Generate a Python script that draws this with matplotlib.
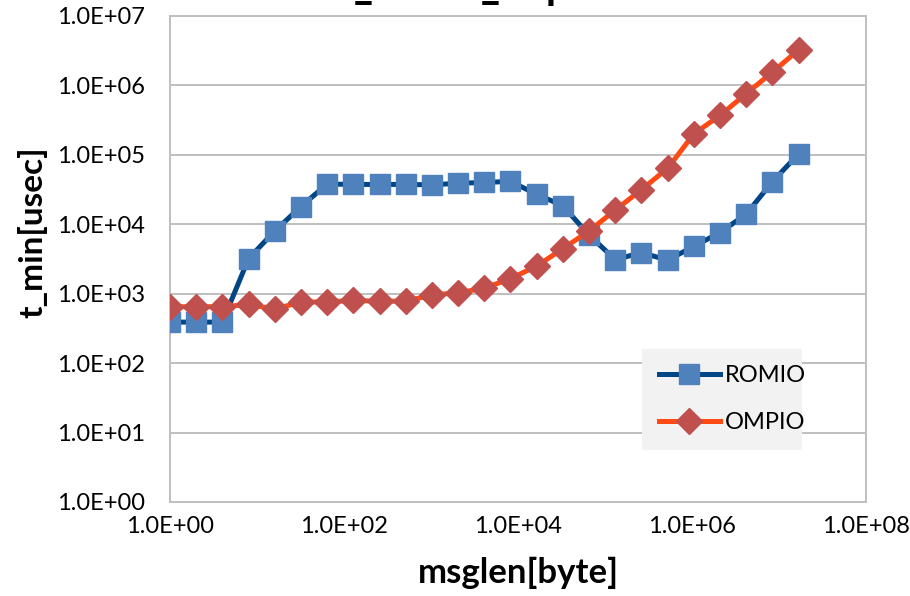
import matplotlib
matplotlib.use("Agg")
import matplotlib.pyplot as plt
from matplotlib.ticker import FixedLocator, FuncFormatter, NullLocator

title = "P_Write_Expl"
msglen = [2**i for i in range(25)]
romio = [390, 390, 390, 3200, 8000, 18000, 38000, 37500, 37500, 37500, 37000, 39000,
         40000, 41500, 27000, 18500, 7000, 3100, 3900, 3050, 4800, 7600, 14000, 41000, 103000]
ompio = [650, 650, 650, 700, 600, 760, 760, 800, 780, 780, 960, 1030, 1200, 1650, 2500,
         4450, 8000, 16000, 31500, 64000, 200000, 370000, 760000, 1550000, 3250000]
series_names = ["ROMIO", "OMPIO"]
xticks = [1e0, 1e2, 1e4, 1e6, 1e8]
yticks = [1e0, 1e1, 1e2, 1e3, 1e4, 1e5, 1e6, 1e7]

FONT = "Lato"
plt.rcParams["font.family"] = [FONT, "DejaVu Sans"]

fig = plt.figure(figsize=(9.10, 5.96), dpi=100)
ax = fig.add_axes([170/910, 1-502/596, (866-170)/910, (502-16)/596])

ax.plot(msglen, romio, color="#004586", lw=3.6, marker="s", ms=14,
        mfc="#4F81BD", mec="#4F81BD", label=series_names[0], zorder=3)
ax.plot(msglen, ompio, color="#FF4A14", lw=3.6, marker="D", ms=13,
        mfc="#C0504D", mec="#C0504D", label=series_names[1], zorder=4)

ax.set_xscale("log")
ax.set_yscale("log")
ax.set_xlim(1e0, 1e8)
ax.set_ylim(1e0, 1e7)
ax.xaxis.set_major_locator(FixedLocator(xticks))
ax.yaxis.set_major_locator(FixedLocator(yticks))
ax.xaxis.set_minor_locator(NullLocator())
ax.yaxis.set_minor_locator(NullLocator())
fmt = FuncFormatter(lambda v, p: f"{v:.1E}")
ax.xaxis.set_major_formatter(fmt)
ax.yaxis.set_major_formatter(fmt)
ax.tick_params(axis="both", length=0, labelsize=17)
ax.tick_params(axis="y", pad=18)
ax.tick_params(axis="x", pad=10)
ax.grid(axis="y", color="#BFBFBF", lw=1.4)
ax.set_axisbelow(True)
for s in ax.spines.values():
    s.set_color("#BFBFBF")
    s.set_linewidth(1.4)

ax.set_xlabel("msglen[byte]", fontsize=25, fontweight="bold", labelpad=14)
ax.set_ylabel("t_min[usec]", fontsize=24, fontweight="bold")
ax.yaxis.set_label_coords((47-170)/696, (502-232)/486)

leg = ax.legend(loc="lower left", bbox_to_anchor=((642-170)/696, (502-450)/486, (802-642)/696, (450-347)/486),
                mode="expand", frameon=True, fancybox=False, fontsize=17, handlelength=2.6,
                labelspacing=1.1, borderaxespad=0, handletextpad=0.2, borderpad=0.7)
leg.get_frame().set_facecolor("#F2F2F2")
leg.get_frame().set_edgecolor("none")
leg.get_frame().set_alpha(1)

fig.text(0.5, 1 - 6/596, title, ha="center", va="bottom", fontsize=30, fontweight="bold")

fig.savefig("out.png", dpi=100)
